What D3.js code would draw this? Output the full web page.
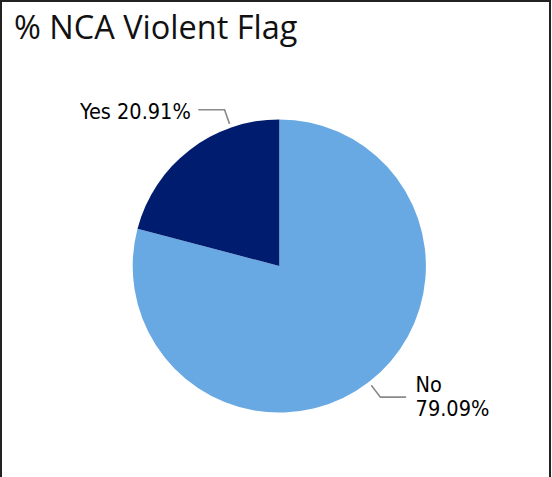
<!DOCTYPE html>
<html><head><meta charset="utf-8">
<script src="https://cdn.jsdelivr.net/npm/d3@7"></script>
<style>body{margin:0;background:#fff}svg{display:block}</style>
</head><body>
<script>
const categories = ["No", "Yes"];
const values = [79.09, 20.91];
const labels = ["No\n79.09%", "Yes 20.91%"];
const colors = ["#69A9E3", "#001C6E"];

const W = 552, H = 477;
const svg = d3.select("body").append("svg").attr("width", W).attr("height", H);
svg.append("rect").attr("x", 1).attr("y", 1).attr("width", 549).attr("height", 490)
  .attr("fill", "#fff").attr("stroke", "#222").attr("stroke-width", 2);

svg.append("text").attr("x", 14).attr("y", 39)
  .attr("font-family", "'Open Sans', sans-serif").attr("font-size", 32.5).attr("fill", "#111")
  .text("% NCA Violent Flag");

const cx = 279.3, cy = 266, R = 146.6;
const g = svg.append("g").attr("transform", `translate(${cx},${cy})`);
const pie = d3.pie().sort(null).value(d => d.v).startAngle(0).endAngle(2 * Math.PI);
const data = categories.map((c, i) => ({ c, v: values[i], color: colors[i], label: labels[i] }));
const arcs = pie(data);
const arc = d3.arc().innerRadius(0).outerRadius(R);
g.selectAll("path.slice").data(arcs).join("path").attr("class", "slice")
  .attr("d", arc).attr("fill", d => d.data.color);

// leader lines (label-collision shift for the small slice, like the original)
const lineColor = "#8a8a8a";
const angleShift = [0, 0.32];
arcs.forEach((a, i) => {
  const mid = (a.startAngle + a.endAngle) / 2 + angleShift[i];
  const p0 = [Math.sin(mid) * (R + 4), -Math.cos(mid) * (R + 4)];
  const p1 = [Math.sin(mid) * (R + 19), -Math.cos(mid) * (R + 19)];
  const right = Math.sin(mid) > 0;
  const p2 = [p1[0] + (right ? 25.7 : -26.3), p1[1]];
  g.append("polyline").attr("points", [p0, p1, p2].map(p => p.join(",")).join(" "))
    .attr("fill", "none").attr("stroke", lineColor).attr("stroke-width", 1.6);
  const lines = a.data.label.split("\n");
  const t = g.append("text")
    .attr("font-family", "'DejaVu Sans Condensed', 'DejaVu Sans', sans-serif")
    .attr("font-size", 21.5).attr("fill", "#000")
    .attr("text-anchor", right ? "start" : "end");
  if (right) {
    lines.forEach((l, k) => t.append("tspan").attr("x", p2[0] + 9.5)
      .attr("y", p2[1] - 5 + k * 23.5).text(l));
  } else {
    t.attr("x", p2[0] - 7.5).attr("y", p2[1] + 9).text(lines[0]);
  }
});
</script>
</body></html>
